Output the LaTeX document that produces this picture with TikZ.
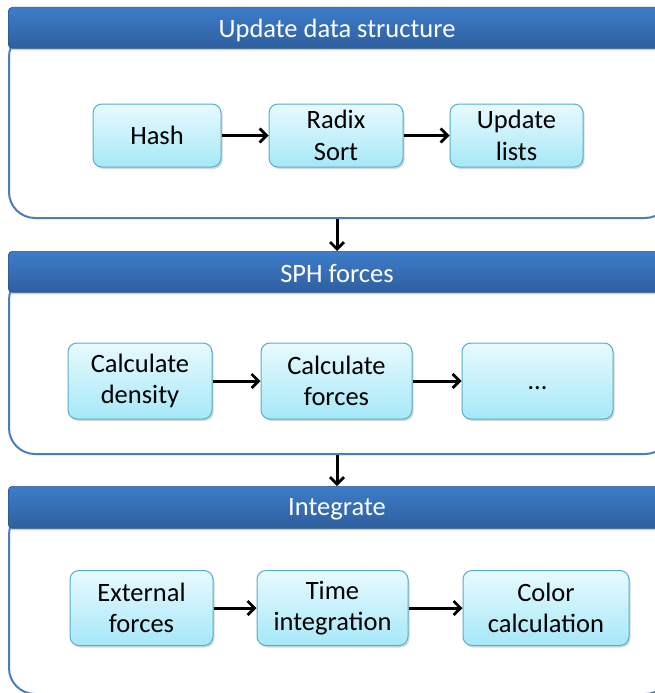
\documentclass[tikz,border=0pt]{standalone}
\usepackage{fontspec}
\setmainfont{Carlito}
\usetikzlibrary{arrows.meta,shadows}
\definecolor{hdrtop}{HTML}{3D7DC9}
\definecolor{hdrbot}{HTML}{2F5F9F}
\definecolor{bodyline}{HTML}{4B7EBD}
\definecolor{boxtop}{HTML}{E8FAFE}
\definecolor{boxbot}{HTML}{A6E8F8}
\definecolor{boxline}{HTML}{56AECA}
\tikzset{
  body/.style={draw=bodyline, line width=2pt, fill=white, rounded corners=26pt, anchor=north west, inner sep=0pt},
  hdr/.style={top color=hdrtop, bottom color=hdrbot, draw=hdrbot!90!black, line width=0.6pt, rounded corners=4pt, anchor=north west, inner sep=0pt,
    drop shadow={shadow xshift=0pt, shadow yshift=-2pt, opacity=0.35}},
  hdrtext/.style={text=white, font=\fontsize{26.5}{31}\selectfont, inner sep=0pt},
  stepbox/.style={top color=boxtop, bottom color=boxbot, draw=boxline, line width=1pt, rounded corners=9pt,
    align=center, font=\fontsize{26.5}{31.5}\selectfont, inner sep=0pt,
    drop shadow={shadow xshift=1.5pt, shadow yshift=-2pt, opacity=0.3}},
  arr/.style={draw=black, line width=3pt, -{Straight Barb[length=7pt,width=14pt,line width=2.8pt]}},
}
\begin{document}
\begin{tikzpicture}[x=1pt,y=-1pt]
\useasboundingbox (0,0) rectangle (654,693);
\fill[white] (0,0) rectangle (654,693);
% Section 1
\node[body, minimum width=662pt, minimum height=187pt] (b1) at (8,30) {};
\node[hdr, minimum width=664pt, minimum height=41pt] (h1) at (8,7) {};
\node[hdrtext] (t1) at (337,30) {Update data structure};
\node[stepbox, minimum width=128pt, minimum height=63pt] (hash) at (157,135.5) {Hash};
\node[stepbox, minimum width=134pt, minimum height=63pt] (radix) at (336,135.5) {Radix\\Sort};
\node[stepbox, minimum width=133pt, minimum height=63pt] (upd) at (516.5,135.5) {Update\\lists};
\draw[arr] (hash) -- (radix);
\draw[arr] (radix) -- (upd);
% Section 2
\node[body, minimum width=662pt, minimum height=180pt] (b2) at (8,273) {};
\node[hdr, minimum width=664pt, minimum height=41pt] (h2) at (8,251) {};
\node[hdrtext] (t2) at (337,274) {SPH forces};
\node[stepbox, minimum width=144pt, minimum height=76pt] (dens) at (140,381) {Calculate\\density};
\node[stepbox, minimum width=151pt, minimum height=76pt] (forc) at (336.5,381) {Calculate\\forces};
\node[stepbox, minimum width=151pt, minimum height=76pt] (dots) at (537.5,381) {\raisebox{-8pt}[0pt][0pt]{…}};
\draw[arr] (dens) -- (forc);
\draw[arr] (forc) -- (dots);
% Section 3
\node[body, minimum width=662pt, minimum height=185pt] (b3) at (8,508) {};
\node[hdr, minimum width=664pt, minimum height=42pt] (h3) at (8,486) {};
\node[hdrtext] (t3) at (337,509) {Integrate};
\node[stepbox, minimum width=143pt, minimum height=75pt] (ext) at (141.5,608) {External\\forces};
\node[stepbox, minimum width=151pt, minimum height=75pt] (time) at (332.5,608) {Time\\integration};
\node[stepbox, minimum width=166pt, minimum height=75pt] (col) at (546,608) {Color\\calculation};
\draw[arr] (ext) -- (time);
\draw[arr] (time) -- (col);
% Between sections
\draw[arr] (b1.south -| t1.center) -- (h2.north -| t1.center);
\draw[arr] (b2.south -| t2.center) -- (h3.north -| t2.center);
\end{tikzpicture}
\end{document}
